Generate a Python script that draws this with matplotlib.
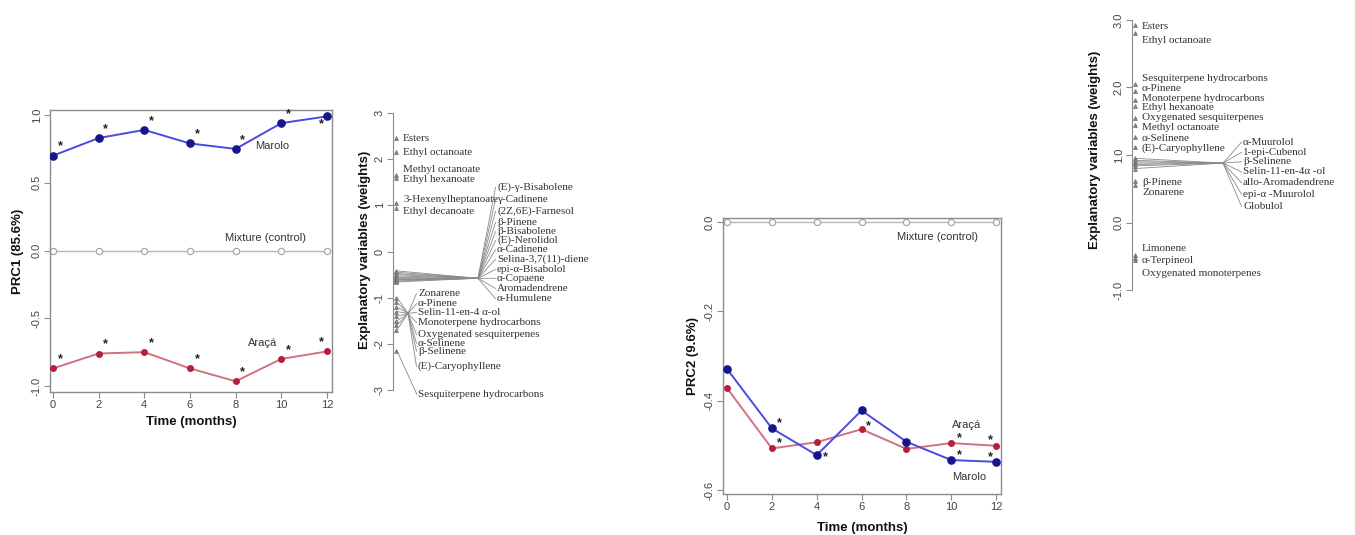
import matplotlib
matplotlib.use("Agg")
from matplotlib import pyplot as plt

plt.rcParams['axes.unicode_minus'] = False
SANS = 'Liberation Sans'
SERIF = 'Liberation Serif'

# ---- data -----------------------------------------------------------
months = [0, 2, 4, 6, 8, 10, 12]
control = [0, 0, 0, 0, 0, 0, 0]

prc1_marolo = [0.70, 0.83, 0.89, 0.79, 0.75, 0.94, 0.99]
prc1_araca = [-0.87, -0.76, -0.75, -0.87, -0.965, -0.80, -0.745]
prc1_sig_marolo = [0, 2, 4, 6, 8, 10, 12]
prc1_sig_araca = [0, 2, 4, 6, 8, 10, 12]

prc2_marolo = [-0.329, -0.462, -0.522, -0.422, -0.492, -0.533, -0.537]
prc2_araca = [-0.372, -0.507, -0.493, -0.464, -0.508, -0.495, -0.501]
prc2_sig_marolo = [2, 4, 10, 12]
prc2_sig_araca = [2, 6, 10, 12]

prc1_names = ['Esters', 'Ethyl octanoate', 'Methyl octanoate', 'Ethyl hexanoate',
              '3-Hexenylheptanoate', 'Ethyl decanoate',
              '(E)-γ-Bisabolene', 'γ-Cadinene', '(2Z,6E)-Farnesol', 'β-Pinene',
              'β-Bisabolene', '(E)-Nerolidol', 'α-Cadinene', 'Selina-3,7(11)-diene',
              'epi-α-Bisabolol', 'α-Copaene', 'Aromadendrene', 'α-Humulene',
              'Zonarene', 'α-Pinene', 'Selin-11-en-4 α-ol', 'Monoterpene hydrocarbons',
              'Oxygenated sesquiterpenes', 'α-Selinene', 'β-Selinene', '(E)-Caryophyllene',
              'Sesquiterpene hydrocarbons']
prc1_weights = [2.45, 2.15, 1.65, 1.60, 1.05, 0.95,
                -0.42, -0.45, -0.48, -0.50, -0.53, -0.56, -0.58, -0.60,
                -0.61, -0.62, -0.64, -0.66,
                -1.00, -1.10, -1.20, -1.30, -1.40, -1.50, -1.60, -1.70,
                -2.15]

prc2_names = ['Esters', 'Ethyl octanoate', 'Sesquiterpene hydrocarbons', 'α-Pinene',
              'Monoterpene hydrocarbons', 'Ethyl hexanoate', 'Oxygenated sesquiterpenes',
              'Methyl octanoate', 'α-Selinene', '(E)-Caryophyllene',
              'α-Muurolol', '1-epi-Cubenol', 'β-Selinene', 'Selin-11-en-4α -ol',
              'allo-Aromadendrene', 'epi-α -Muurolol', 'Globulol',
              'β-Pinene', 'Zonarene', 'Limonene', 'α-Terpineol', 'Oxygenated monoterpenes']
prc2_weights = [2.93, 2.80, 2.05, 1.95, 1.82, 1.72, 1.55, 1.45, 1.27, 1.12,
                0.95, 0.92, 0.90, 0.88, 0.86, 0.84, 0.80,
                0.62, 0.56, -0.48, -0.52, -0.55]

# ---- layout of the species labels (label y, group) --------------------
prc1_label_y = [2.45, 2.14, 1.77, 1.56, 1.13, 0.87,
                1.39, 1.13, 0.87, 0.63, 0.43, 0.24, 0.04, -0.17, -0.39, -0.58, -0.80, -1.02,
                -0.91, -1.13, -1.32, -1.54, -1.80, -1.99, -2.16, -2.49,
                -3.10]
prc1_group = ['d'] * 6 + ['A'] * 12 + ['B'] * 8 + ['s']
prc1_hubs = {'d': (None, None, 10), 'A': (85, -0.58, 104), 'B': (15, -1.34, 25),
             's': (None, None, 25)}

prc2_label_y = [2.91, 2.70, 2.14, 1.98, 1.83, 1.70, 1.55, 1.40, 1.25, 1.10,
                1.19, 1.04, 0.90, 0.75, 0.59, 0.42, 0.24,
                0.60, 0.44, -0.38, -0.56, -0.75]
prc2_group = ['d'] * 10 + ['C'] * 7 + ['d'] * 5
prc2_hubs = {'d': (None, None, 10), 'C': (91, 0.88, 111)}

W, H = 1355, 535
fig = plt.figure(figsize=(W / 100, H / 100), dpi=100)


def px_axes(left, top, right, bottom):
    return fig.add_axes([left / W, 1 - bottom / H, (right - left) / W, (bottom - top) / H])


def draw_prc(ax, marolo, araca, sig_m, sig_a, offsets, labels):
    ax.plot(months, control, color='#b8b8b8', lw=1.0, marker='o', ms=4.5,
            mfc='white', mec='#a8a8a8', mew=0.9, zorder=2)
    ax.plot(months, araca, color='#d2717f', lw=1.4, marker='o', ms=4,
            mfc='#b3203d', mec='#b3203d', zorder=3)
    ax.plot(months, marolo, color='#4a4ade', lw=1.4, marker='o', ms=5.2,
            mfc='#15158e', mec='#15158e', zorder=4)
    for key, series, sig in (('m', marolo, sig_m), ('a', araca, sig_a)):
        for m, v in zip(months, series):
            if m not in sig:
                continue
            off = offsets.get((key, m), offsets['default'])
            ax.annotate('*', (m, v), xytext=off, textcoords='offset pixels',
                        ha='center', va='center', fontsize=9, color='#222222',
                        family=SANS, fontweight='bold')
    for txt, x, y in labels:
        ax.text(x, y, txt, ha='center', va='center', fontsize=8, color='#333333', family=SANS)
    for s in ax.spines.values():
        s.set_color('#8c8c8c')
        s.set_linewidth(1.0)
    ax.set_xticks(months)
    ax.tick_params(colors='#8c8c8c', labelcolor='#444444', labelsize=8, length=4,
                   width=0.8, pad=2)
    ax.tick_params(axis='y', labelrotation=90)
    for lbl in ax.get_yticklabels():
        lbl.set_family(SANS)
        lbl.set_va('center')
    for lbl in ax.get_xticklabels():
        lbl.set_family(SANS)


def draw_weights(ax, names, weights, label_y, group, hubs, ticks, ticklabels, width):
    ax.set_xlim(0, width)
    for side in ('top', 'right', 'bottom'):
        ax.spines[side].set_visible(False)
    ax.spines['left'].set_bounds(ticks[0], ticks[-1])
    ax.spines['left'].set_color('#8c8c8c')
    ax.set_xticks([])
    ax.set_yticks(ticks)
    ax.set_yticklabels(ticklabels, rotation=90, va='center', family=SANS)
    ax.tick_params(axis='y', colors='#8c8c8c', labelcolor='#444444', labelsize=8,
                   length=4, width=0.8, pad=2)
    ax.patch.set_alpha(0)
    ax.plot([3] * len(weights), weights, ls='none', marker='^', ms=2.8,
            mfc='#8a8a8a', mec='#6a6a6a', mew=0.5, clip_on=False)
    for name, w, ly, g in zip(names, weights, label_y, group):
        hx, hy, lx = hubs[g]
        if g == 's':
            ax.plot([4, lx - 1], [w, ly], color='#8a8a8a', lw=0.6, clip_on=False)
        elif hx is not None:
            ax.plot([4, hx, lx - 1.5], [w, hy, ly], color='#8a8a8a', lw=0.6, clip_on=False)
        ax.text(lx, ly, name, ha='left', va='center', fontsize=8, color='#333333',
                family=SERIF, clip_on=False)
    ax.set_ylabel('Explanatory variables (weights)', family=SANS, fontweight='bold',
                  fontsize=9.5, color='#111111')


# ---- PRC1 -----------------------------------------------------------
ax1 = px_axes(50, 110, 332, 392)
ax1.set_xlim(-0.13, 12.22)
ax1.set_ylim(-1.044, 1.037)
ax1.set_yticks([-1.0, -0.5, 0.0, 0.5, 1.0])
ax1.set_yticklabels(['-1.0', '-0.5', '0.0', '0.5', '1.0'])
draw_prc(ax1, prc1_marolo, prc1_araca, prc1_sig_marolo, prc1_sig_araca,
         {'default': (7, 9), ('m', 12): (-6, -8), ('a', 12): (-6, 9)},
         [('Marolo', 9.6, 0.77), ('Mixture (control)', 9.3, 0.09), ('Araçá', 9.2, -0.68)])
ax1.set_ylabel('PRC1 (85.6%)', family=SANS, fontweight='bold', fontsize=9.5, color='#111111')
ax1.set_xlabel('Time (months)', family=SANS, fontweight='bold', fontsize=9.5, color='#111111')
ax1.yaxis.set_label_coords(-0.092, 0.5)
ax1.xaxis.set_label_coords(0.5, -0.085)

# ---- PRC1 weights ---------------------------------------------------
ax2 = px_axes(393, 100, 600, 400)
ax2.set_ylim(-3.216, 3.2816)
draw_weights(ax2, prc1_names, prc1_weights, prc1_label_y, prc1_group, prc1_hubs,
             [-3, -2, -1, 0, 1, 2, 3], ['-3', '-2', '-1', '0', '1', '2', '3'], 207)
ax2.yaxis.set_label_coords(-0.106, 0.5)

# ---- PRC2 -----------------------------------------------------------
ax3 = px_axes(723, 218, 1001, 494)
ax3.set_xlim(-0.18, 12.22)
ax3.set_ylim(-0.609, 0.009)
ax3.set_yticks([-0.6, -0.4, -0.2, 0.0])
ax3.set_yticklabels(['-0.6', '-0.4', '-0.2', '0.0'])
draw_prc(ax3, prc2_marolo, prc2_araca, prc2_sig_marolo, prc2_sig_araca,
         {'default': (8, 5), ('m', 4): (9, -2), ('a', 6): (7, 3),
          ('m', 12): (-6, 5), ('a', 12): (-6, 6)},
         [('Mixture (control)', 9.4, -0.033), ('Araçá', 10.7, -0.455), ('Marolo', 10.8, -0.571)])
ax3.set_ylabel('PRC2 (9.6%)', family=SANS, fontweight='bold', fontsize=9.5, color='#111111')
ax3.set_xlabel('Time (months)', family=SANS, fontweight='bold', fontsize=9.5, color='#111111')
ax3.yaxis.set_label_coords(-0.086, 0.5)
ax3.xaxis.set_label_coords(0.5, -0.101)

# ---- PRC2 weights ---------------------------------------------------
ax4 = px_axes(1132, 5, 1355, 305)
ax4.set_ylim(-1.222, 3.222)
draw_weights(ax4, prc2_names, prc2_weights, prc2_label_y, prc2_group, prc2_hubs,
             [-1, 0, 1, 2, 3], ['-1.0', '0.0', '1.0', '2.0', '3.0'], 223)
ax4.yaxis.set_label_coords(-0.139, 0.517)

fig.savefig('out.png', dpi=100)
